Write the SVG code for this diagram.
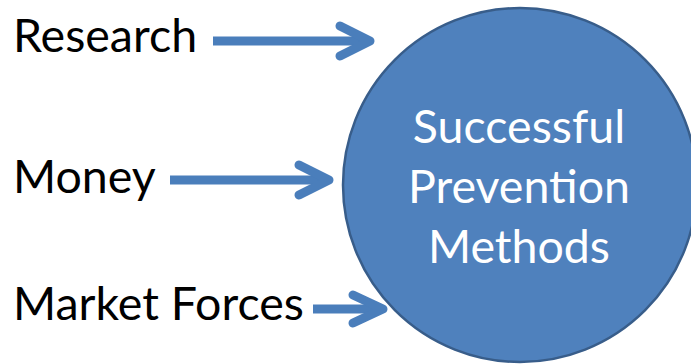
<svg xmlns="http://www.w3.org/2000/svg" width="691" height="364" viewBox="0 0 691 364">
<style>
.lbl{font-family:Lato,"Open Sans","Liberation Sans",sans-serif;font-size:46.5px;fill:#000}
.ctr{font-family:Lato,"Open Sans","Liberation Sans",sans-serif;font-size:46.5px;fill:#fff;text-anchor:middle}
.arr{fill:none;stroke:#4A7EBB;stroke-width:9;stroke-linecap:round;stroke-linejoin:round}
.shaft{fill:none;stroke:#4A7EBB;stroke-width:9}
</style>
<rect width="691" height="364" fill="#fff"/>
<g id="node-center">
<circle cx="520" cy="185" r="177" fill="#4F81BD" stroke="#385D8A" stroke-width="2.5"/>
<text class="ctr" x="519" y="143">Successful</text>
<text class="ctr" x="519" y="203">Prevention</text>
<text class="ctr" x="519" y="263">Methods</text>
</g>
<g id="node-research"><text class="lbl" x="13" y="52">Research</text></g>
<g id="node-money"><text class="lbl" x="13" y="193">Money</text></g>
<g id="node-market"><text class="lbl" x="13" y="320">Market Forces</text></g>
<g id="connectors">
<path class="shaft" d="M213 41H366"/>
<path class="arr" d="M340 26L370 41L340 56"/>
<path class="shaft" d="M170 180H326"/>
<path class="arr" d="M299 165L329 180L299 195"/>
<path class="shaft" d="M313 309H380"/>
<path class="arr" d="M353 295L383 309L353 323"/>
</g>
</svg>
